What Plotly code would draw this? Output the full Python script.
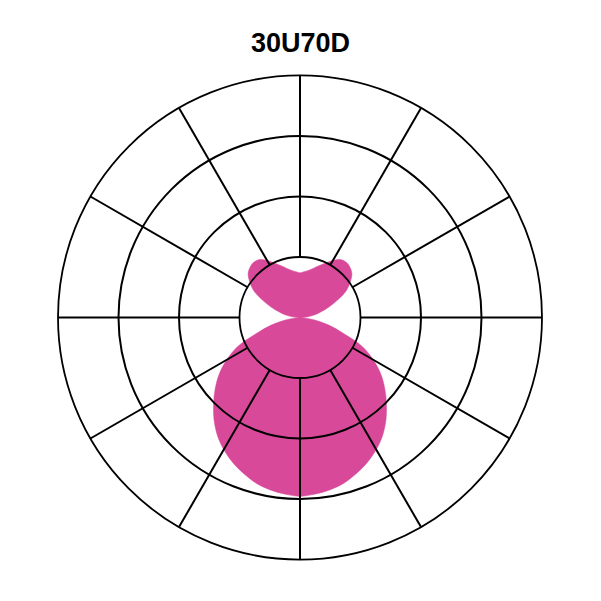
import plotly.graph_objects as go

TITLE = "30U70D"

# angle from the vertical axis (deg), upper lobe measured from zenith, lower from nadir
ANGLES = [0, 5, 10, 15, 20, 25, 30, 35, 40, 45, 50, 55, 60, 65, 70, 75, 80, 85, 90]
UPPER = [74, 76, 79, 84, 91, 99, 109, 117, 119, 117, 112, 101, 88, 69, 51, 36, 25, 13, 0]
LOWER = [296, 293, 289, 283, 274, 264, 252, 238, 221, 202, 183, 163, 140, 114, 76, 50, 26, 8, 0]

R_MAX = 400
FILL = "#D9499A"

# build a closed outline clockwise from the top
theta, r = [], []
for a, v in zip(ANGLES, UPPER):              # upper right
    theta.append(a); r.append(v)
for a, v in zip(ANGLES[::-1], LOWER[::-1]):  # lower right
    theta.append(180 - a); r.append(v)
for a, v in zip(ANGLES, LOWER):              # lower left
    theta.append(180 + a); r.append(v)
for a, v in zip(ANGLES[::-1], UPPER[::-1]):  # upper left
    theta.append(360 - a); r.append(v)

fig = go.Figure()
fig.add_trace(go.Scatterpolar(
    r=r, theta=theta, mode="lines", fill="toself",
    fillcolor=FILL, line=dict(color=FILL, width=0.5, shape="spline"),
    hoverinfo="skip", showlegend=False, subplot="polar",
))
# empty trace so the grid subplot is rendered on top
fig.add_trace(go.Scatterpolar(r=[], theta=[], showlegend=False, subplot="polar2"))

# page body has an 8px margin, so margins are shifted to compensate
common_ang = dict(rotation=90, direction="clockwise")
fig.update_layout(
    width=601, height=601,
    margin=dict(l=50, r=67, t=67, b=49),
    paper_bgcolor="white",
    title=dict(text=f"<b>{TITLE}</b>", x=0.4867, xanchor="center", y=0.943, yanchor="middle",
               yref="container", font=dict(family="Liberation Sans, Arial", size=27, color="black")),
    polar=dict(
        domain=dict(x=[0, 1], y=[0, 1]),
        bgcolor="white",
        radialaxis=dict(range=[0, R_MAX], visible=False, showgrid=False),
        angularaxis=dict(visible=False, showgrid=False, **common_ang),
    ),
    polar2=dict(
        domain=dict(x=[0, 1], y=[0, 1]),
        bgcolor="rgba(0,0,0,0)",
        hole=0.25,
        radialaxis=dict(range=[0, 3], tickvals=[1, 2], showticklabels=False, ticks="",
                        showline=False, gridcolor="black", gridwidth=1.8),
        angularaxis=dict(dtick=30, showticklabels=False, ticks="", showline=True,
                         linecolor="black", linewidth=1.8, gridcolor="black", gridwidth=1.8,
                         **common_ang),
    ),
)

fig.write_html("out.html")
